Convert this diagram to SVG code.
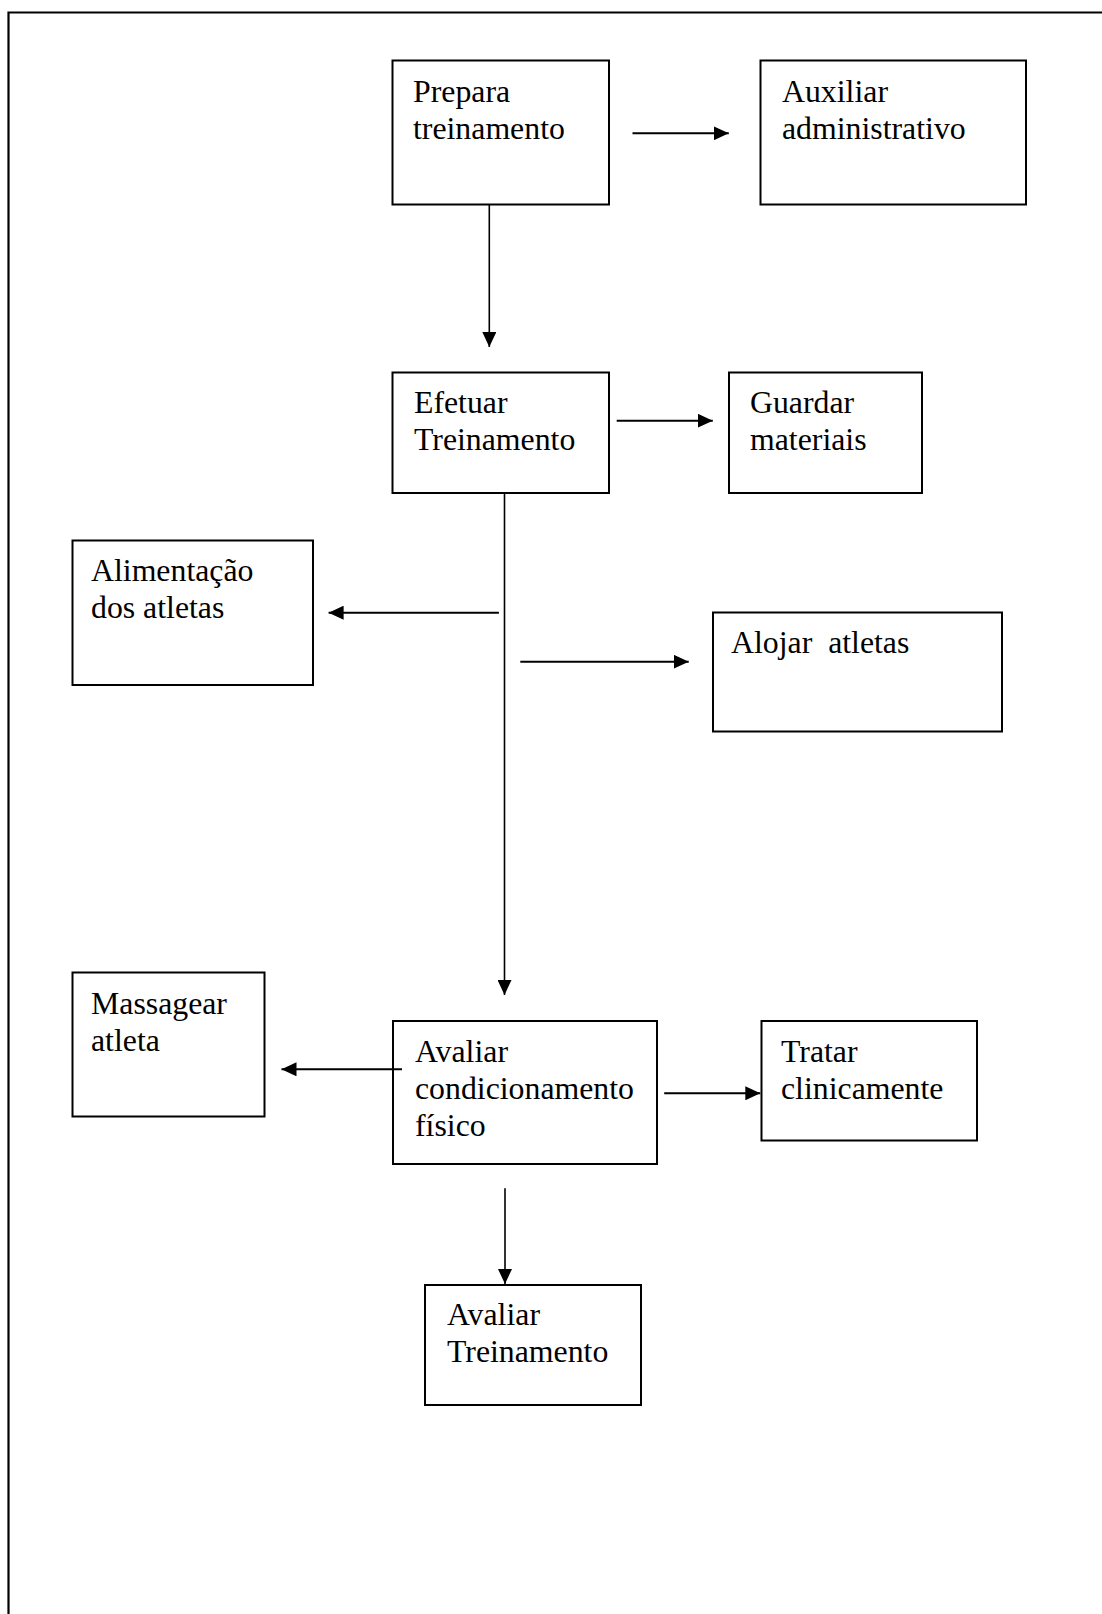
<svg xmlns="http://www.w3.org/2000/svg" width="1102" height="1614" viewBox="0 0 1102 1614">
<style>
.box{fill:#fff;stroke:#000;stroke-width:2}
.lbl{font-family:"Liberation Serif","Times New Roman",serif;font-size:31.8px;fill:#000;white-space:pre}
.ln{fill:none;stroke:#000;stroke-width:2}
.lnv{fill:none;stroke:#000;stroke-width:1.6}
</style>
<defs>
<marker id="ah" markerUnits="userSpaceOnUse" markerWidth="16" markerHeight="14" viewBox="0 0 16 14" refX="15" refY="7" orient="auto">
<path d="M0,0 L15,7 L0,14 Z" fill="#000"/>
</marker>
</defs>
<rect width="1102" height="1614" fill="#fff"/>
<path d="M8.5,1614 L8.5,12.5 L1102,12.5" fill="none" stroke="#000" stroke-width="2.2"/>
<g id="n-prepara"><rect class="box" x="392.5" y="60.5" width="216.5" height="144"/><text class="lbl" x="413" y="101.7">Prepara</text><text class="lbl" x="413" y="138.5">treinamento</text></g>
<g id="n-auxiliar"><rect class="box" x="760.5" y="60.5" width="265.5" height="144"/><text class="lbl" x="782" y="101.7">Auxiliar</text><text class="lbl" x="782" y="138.5">administrativo</text></g>
<g id="n-efetuar"><rect class="box" x="392.5" y="372.5" width="216.5" height="120.5"/><text class="lbl" x="414" y="412.7">Efetuar</text><text class="lbl" x="414" y="450">Treinamento</text></g>
<g id="n-guardar"><rect class="box" x="729" y="372.5" width="193" height="120.5"/><text class="lbl" x="750" y="412.7">Guardar</text><text class="lbl" x="750" y="450">materiais</text></g>
<g id="n-alimentacao"><rect class="box" x="72.5" y="540.5" width="240.5" height="144.5"/><text class="lbl" x="91" y="581">Alimentação</text><text class="lbl" x="91" y="618">dos atletas</text></g>
<g id="n-alojar"><rect class="box" x="713" y="612.5" width="289" height="119"/><text class="lbl" x="731" y="653">Alojar  atletas</text></g>
<g id="n-massagear"><rect class="box" x="72.5" y="972.5" width="192" height="144"/><text class="lbl" x="91" y="1014">Massagear</text><text class="lbl" x="91" y="1051">atleta</text></g>
<g id="n-avaliar-cond"><rect class="box" x="393" y="1021" width="264" height="143"/><text class="lbl" x="415" y="1062">Avaliar</text><text class="lbl" x="415" y="1099">condicionamento</text><text class="lbl" x="415" y="1136">físico</text></g>
<g id="n-tratar"><rect class="box" x="761.5" y="1021" width="215.5" height="119.5"/><text class="lbl" x="781" y="1062">Tratar</text><text class="lbl" x="781" y="1099">clinicamente</text></g>
<g id="n-avaliar-trein"><rect class="box" x="425" y="1285" width="216" height="120"/><text class="lbl" x="447" y="1325">Avaliar</text><text class="lbl" x="447" y="1362">Treinamento</text></g>
<g id="connectors">
<path class="ln" d="M632.5,133.3 L728.8,133.3" marker-end="url(#ah)"/>
<path class="lnv" d="M489.3,205 L489.3,347" marker-end="url(#ah)"/>
<path class="ln" d="M616.7,420.7 L712.8,420.7" marker-end="url(#ah)"/>
<path class="lnv" d="M504.5,493 L504.5,995" marker-end="url(#ah)"/>
<path class="ln" d="M498.9,612.7 L328.6,612.7" marker-end="url(#ah)"/>
<path class="ln" d="M520.3,661.7 L688.7,661.7" marker-end="url(#ah)"/>
<path class="ln" d="M402,1069.3 L281.5,1069.3" marker-end="url(#ah)"/>
<path class="ln" d="M664.2,1093.3 L760.3,1093.3" marker-end="url(#ah)"/>
<path class="lnv" d="M505,1188.3 L505,1284" marker-end="url(#ah)"/>
</g>
</svg>
